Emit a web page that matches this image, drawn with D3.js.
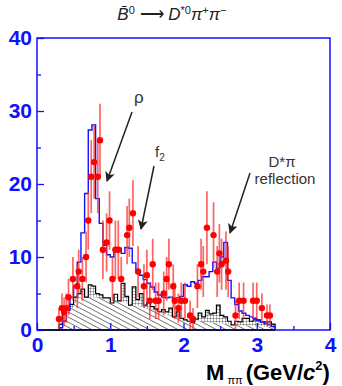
<!DOCTYPE html>
<html>
<head>
<meta charset="utf-8">
<script src="https://cdn.jsdelivr.net/npm/d3@7"></script>
<style>
body { margin: 0; background: #fff; }
svg { display: block; font-family: "Liberation Sans", Arial, sans-serif; }
</style>
</head>
<body>
<div class="chart"></div>
<script>
// bin lower edges, 0.05 GeV wide
const binStart = 0.30;
const binWidth = 0.05;

// blue histogram (fit / MC)
const fitValues = [0.3, 1.2, 2.7, 4.5, 6, 9.3, 13.3, 18.7, 27.4, 28.1,
  18, 14.6, 11.6, 10.3, 10, 10.8, 11.2, 10.5, 11.3, 11.2,
  9.2, 8.3, 7.5, 6.9, 6.4, 5.9, 5.2, 4.8, 4.5, 4.4,
  4.5, 4.3, 4.4, 4.6, 6.2, 6, 6.6, 6.4, 6.8, 7.3,
  7.3, 8, 9.3, 8.5, 10, 12, 6.8, 4.4, 3.5, 2.6,
  2.3, 2, 1.8, 1.6, 1.3, 1.1, 0.9, 0.7, 0.5];

// black histogram (background, sideband)
const bkgValues = [0.8, 2.7, 3.2, 3.5, 4.5, 5, 5.6, 4.5, 6.2, 6,
  5, 4.8, 4.4, 4.4, 3.7, 4.9, 4, 6.4, 4.6, 3.4,
  5.9, 4.2, 5, 3.4, 3.8, 3.2, 2.9, 2.5, 2.8, 2.5,
  3, 1.8, 2.5, 1.6, 1.4, 1.2, 1, 1.5, 2.3, 1.8,
  2.7, 2.2, 2.3, 3.4, 2, 1.8, 1.2, 0.7, 1.2, 1.1,
  1.6, 1.6, 1.2, 1.4, 1.4, 1.1, 1.1, 1.1, 0.8];

// smooth part of background (diagonal hatch)
const smoothValues = [0.6, 1.4, 2.2, 3, 3.7, 4.2, 4.5, 4.5, 4.5, 4.5,
  4.5, 4.4, 4.3, 4.2, 3.7, 4, 3.9, 3.8, 3.7, 3.4,
  3.4, 3.3, 3.2, 3, 2.9, 2.8, 2.6, 2.4, 2.3, 2.2,
  2, 1.8, 1.7, 1.6, 1.4, 1.2, 1, 1.2, 1.2, 1.1,
  1.1, 1, 1, 0.9, 0.9, 0.8, 0.8, 0.7, 0.7, 0.7,
  0.6, 0.6, 0.6, 0.5, 0.5, 0.5, 0.4, 0.4, 0.3];

// data points
const dataMass = [0.30, 0.34, 0.37, 0.40, 0.43, 0.49, 0.55, 0.57, 0.62, 0.67,
  0.70, 0.74, 0.78, 0.83, 0.86, 0.90, 0.95, 0.99, 1.03, 1.07,
  1.11, 1.15, 1.23, 1.26, 1.31, 1.38, 1.46, 1.50, 1.54, 1.58,
  1.62, 1.66, 1.73, 1.77, 1.80, 1.86, 1.88, 1.93, 1.97, 2.02,
  2.09, 2.13, 2.19, 2.24, 2.27, 2.32, 2.41, 2.46, 2.49, 2.52,
  2.58, 2.61, 2.71, 2.76, 2.82, 2.95, 3.00, 3.07, 3.14, 3.18];
const dataValues = [1.5, 3, 2.5, 3, 4.5, 7, 6, 8, 7, 10,
  15, 21, 23, 21, 26, 11, 12, 15, 7, 11,
  11, 7, 13, 14, 16, 8, 6, 7.5, 4, 9,
  4, 4, 5, 7, 9, 6, 4, 3, 4, 4,
  2, 1.5, 6, 9, 8, 14, 13, 8, 10.5, 9,
  9.5, 8, 2, 4, 4, 4, 4, 3, 2, 2];
const dataErrors = [1.5, 2, 2, 2, 2.5, 3, 3, 3, 3, 3.5,
  4, 5, 5, 5, 5, 4, 4, 4, 3, 4,
  4, 3, 4, 4, 4.5, 3.5, 3, 3.5, 2.5, 3.5,
  2.5, 2.5, 3, 3, 3.5, 3, 2.5, 2, 2.5, 2.5,
  2, 1.5, 3, 3.5, 3.5, 5, 4.5, 3.5, 4, 3.5,
  4, 3.5, 2, 2.5, 2.5, 2.5, 2.5, 2, 1.5, 1.5];

const yTicks = [0, 10, 20, 30, 40];
const xTicks = [0, 1, 2, 3, 4];

const width = 342;
const height = 386;
const blue = '#1010ff';

const x = d3.scaleLinear().domain([0, 4]).range([37, 330]);
const y = d3.scaleLinear().domain([0, 40]).range([330, 38]);

const svg = d3.select('.chart')
  .append('svg')
  .attr('width', width)
  .attr('height', height);

const defs = svg.append('defs');
defs.append('pattern')
  .attr('id', 'diag')
  .attr('patternUnits', 'userSpaceOnUse')
  .attr('width', 5).attr('height', 4.5)
  .attr('patternTransform', 'rotate(28)')
  .append('line')
  .attr('x1', 0).attr('y1', 0).attr('x2', 5).attr('y2', 0)
  .attr('stroke', '#000').attr('stroke-width', 1);
const grid = defs.append('pattern')
  .attr('id', 'grid')
  .attr('patternUnits', 'userSpaceOnUse')
  .attr('width', 3).attr('height', 3);
grid.append('rect').attr('width', 3).attr('height', 3).attr('fill', '#fff');
grid.append('path').attr('d', 'M0,0H3M0,0V3').attr('stroke', '#000').attr('stroke-width', 0.6);

// step path for a histogram
function stepPath(values) {
  let p = 'M' + x(binStart) + ',' + y(0);
  values.forEach((v, i) => {
    const x0 = x(binStart + i * binWidth);
    const x1 = x(binStart + (i + 1) * binWidth);
    p += 'L' + x0 + ',' + y(v) + 'L' + x1 + ',' + y(v);
  });
  p += 'L' + x(binStart + values.length * binWidth) + ',' + y(0);
  return p;
}

// background histogram: grid fill, smooth part hatched
const lower = smoothValues.map((v, i) => Math.min(v, bkgValues[i]));
svg.append('path')
  .attr('d', stepPath(bkgValues) + 'Z')
  .attr('fill', 'url(#grid)');
svg.append('path')
  .attr('d', stepPath(lower) + 'Z')
  .attr('fill', '#fff');
svg.append('path')
  .attr('d', stepPath(lower) + 'Z')
  .attr('fill', 'url(#diag)');
svg.append('path')
  .attr('d', stepPath(bkgValues))
  .attr('fill', 'none')
  .attr('stroke', '#000')
  .attr('stroke-width', 1.2);

// fit histogram
svg.append('path')
  .attr('d', stepPath(fitValues))
  .attr('fill', 'none')
  .attr('stroke', blue)
  .attr('stroke-width', 1.4);

// data points
const pts = dataMass.map((m, i) => ({m: m, v: dataValues[i], e: dataErrors[i]}));
svg.selectAll('.err')
  .data(pts)
  .enter()
  .append('line')
  .attr('class', 'err')
  .attr('x1', d => x(d.m)).attr('x2', d => x(d.m))
  .attr('y1', d => y(Math.max(0, d.v - d.e)))
  .attr('y2', d => y(d.v + d.e))
  .attr('stroke', '#ff3030')
  .attr('stroke-opacity', 0.75)
  .attr('stroke-width', 1.7);
svg.selectAll('.pt')
  .data(pts)
  .enter()
  .append('circle')
  .attr('class', 'pt')
  .attr('cx', d => x(d.m))
  .attr('cy', d => y(d.v))
  .attr('r', 3.2)
  .attr('fill', '#ff0000');

// frame
svg.append('rect')
  .attr('x', x(0)).attr('y', y(40))
  .attr('width', x(4) - x(0)).attr('height', y(0) - y(40))
  .attr('fill', 'none')
  .attr('stroke', blue)
  .attr('stroke-width', 1.5);
svg.append('line')
  .attr('x1', x(0)).attr('x2', x(binStart + fitValues.length * binWidth))
  .attr('y1', y(0)).attr('y2', y(0))
  .attr('stroke', '#000').attr('stroke-width', 1.5);

// axes
svg.append('g')
  .attr('transform', 'translate(' + x(0) + ',0)')
  .call(d3.axisLeft(y).tickValues(yTicks).tickSize(-7).tickPadding(5).tickFormat(d3.format('d')));
svg.append('g')
  .attr('transform', 'translate(' + x(0) + ',0)')
  .call(d3.axisLeft(y).tickValues([5, 15, 25, 35]).tickSize(-4).tickFormat(''));
const xAxis = svg.append('g')
  .attr('transform', 'translate(0,' + y(0) + ')')
  .call(d3.axisBottom(x).tickValues(xTicks).tickSize(-7).tickPadding(7).tickFormat(d3.format('d')));
svg.append('g')
  .attr('transform', 'translate(0,' + y(0) + ')')
  .call(d3.axisBottom(x).tickValues([0.5, 1.5, 2.5, 3.5]).tickSize(-4).tickFormat(''));

svg.selectAll('.domain').remove();
svg.selectAll('.tick line').attr('stroke', blue).attr('stroke-width', 1.3);
svg.selectAll('.tick text')
  .attr('fill', blue)
  .attr('font-size', 21)
  .attr('font-weight', 'bold')
  .attr('font-family', '"Liberation Sans", Arial, sans-serif');
xAxis.selectAll('.tick text').attr('dy', '0.71em');

// title
const title = svg.append('text')
  .attr('x', 172).attr('y', 20)
  .attr('text-anchor', 'middle')
  .attr('font-size', 17)
  .attr('fill', '#222');
title.append('tspan').attr('font-style', 'italic').text('B\u0304');
title.append('tspan').attr('font-size', 11).attr('dy', -6).text('0');
title.append('tspan').attr('dy', 6).text(' \u27F6 ');
title.append('tspan').attr('font-style', 'italic').text('D');
title.append('tspan').attr('font-size', 11).attr('dy', -6).text('*0');
title.append('tspan').attr('dy', 6).attr('font-style', 'italic').text('\u03C0');
title.append('tspan').attr('font-size', 11).attr('dy', -6).text('+');
title.append('tspan').attr('dy', 6).attr('font-style', 'italic').text('\u03C0');
title.append('tspan').attr('font-size', 11).attr('dy', -6).text('\u2212');

// x axis title
const xt = svg.append('text')
  .attr('x', 206).attr('y', 380)
  .attr('font-size', 22)
  .attr('font-weight', 'bold')
  .attr('fill', '#000');
xt.append('tspan').text('M');
xt.append('tspan').attr('font-size', 11).attr('font-weight', 'normal').attr('dy', 4).text(' \u03C0\u03C0 ');
xt.append('tspan').attr('dy', -4).text('(GeV/');
xt.append('tspan').attr('font-style', 'italic').text('c');
xt.append('tspan').attr('font-size', 13).attr('dy', -10).text('2');
xt.append('tspan').attr('dy', 10).text(')');

// annotations
defs.append('marker')
  .attr('id', 'arrow')
  .attr('viewBox', '0 0 10 10')
  .attr('refX', 9).attr('refY', 5)
  .attr('markerWidth', 10).attr('markerHeight', 10)
  .attr('markerUnits', 'userSpaceOnUse')
  .attr('orient', 'auto')
  .append('path')
  .attr('d', 'M0,0L10,5L0,10L2.5,5Z')
  .attr('fill', '#222');

const notes = [
  {x1: 132, y1: 112, x2: 107, y2: 181},
  {x1: 154, y1: 166, x2: 141, y2: 229},
  {x1: 250, y1: 173, x2: 230, y2: 233}
];
svg.selectAll('.arrow')
  .data(notes)
  .enter()
  .append('line')
  .attr('class', 'arrow')
  .attr('x1', d => d.x1).attr('y1', d => d.y1)
  .attr('x2', d => d.x2).attr('y2', d => d.y2)
  .attr('stroke', '#222')
  .attr('stroke-width', 1.5)
  .attr('marker-end', 'url(#arrow)');

svg.append('text').attr('x', 134).attr('y', 103)
  .attr('font-size', 17).attr('fill', '#333').text('\u03C1');
const f2 = svg.append('text').attr('x', 155).attr('y', 157)
  .attr('font-size', 15).attr('fill', '#333');
f2.append('tspan').text('f');
f2.append('tspan').attr('font-size', 10).attr('dy', 4).text('2');
svg.append('text').attr('x', 282).attr('y', 167)
  .attr('text-anchor', 'middle')
  .attr('font-size', 15).attr('fill', '#333').text('D*\u03C0');
svg.append('text').attr('x', 285).attr('y', 184)
  .attr('text-anchor', 'middle')
  .attr('font-size', 15).attr('fill', '#333').text('reflection');
</script>
</body>
</html>
